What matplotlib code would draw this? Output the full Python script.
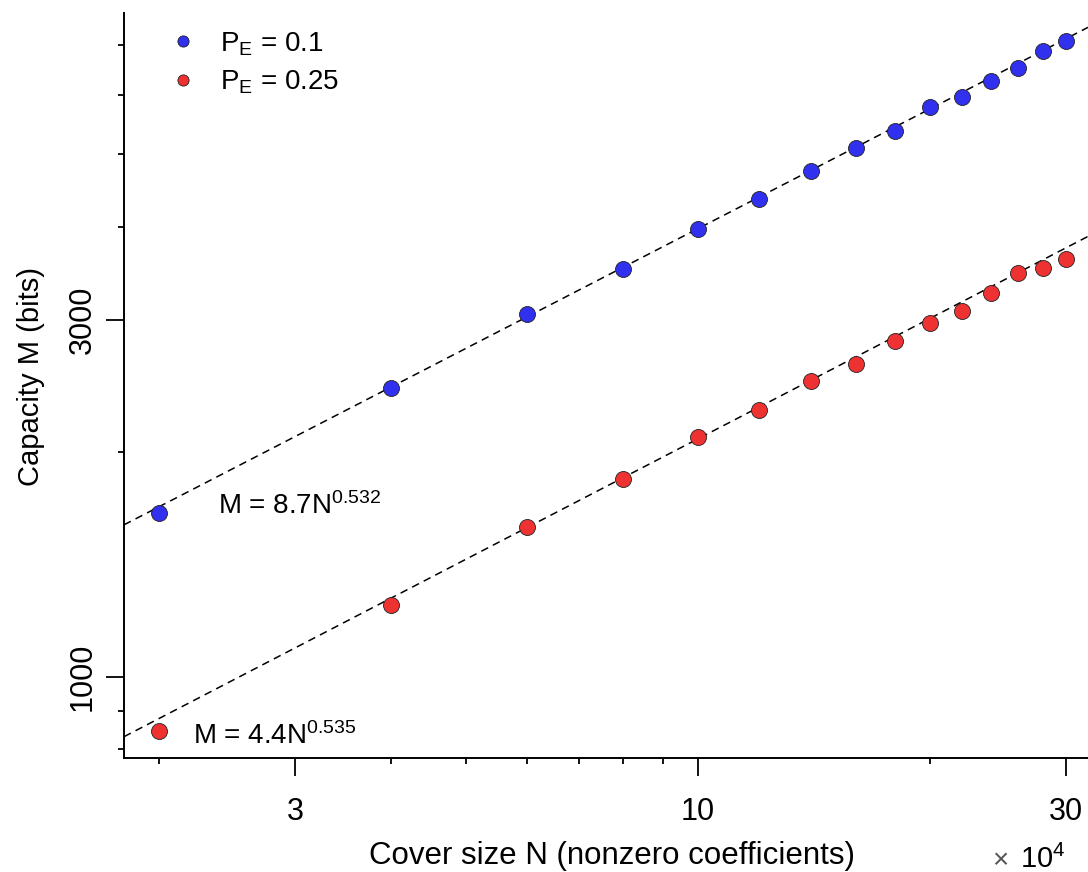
#!/usr/bin/env python

import matplotlib
matplotlib.use('Agg')
import matplotlib.pyplot as plt
import numpy as np

plt.rcParams['font.family'] = ['Liberation Sans', 'DejaVu Sans']
plt.rcParams['mathtext.fontset'] = 'custom'
plt.rcParams['mathtext.rm'] = 'Liberation Sans'
plt.rcParams['mathtext.it'] = 'Liberation Sans:italic'
plt.rcParams['mathtext.bf'] = 'Liberation Sans:bold'

# cover size in units of 1e4 nonzero coefficients
N = [2, 4, 6, 8, 10, 12, 14, 16, 18, 20, 22, 24, 26, 28, 30]
# capacity in bits
M_01 = [1657, 2434, 3057, 3512, 3972, 4355, 4748, 5093, 5370, 5780,
        5959, 6264, 6517, 6869, 7086]
M_025 = [847, 1248, 1587, 1840, 2094, 2275, 2487, 2620, 2812, 2973,
         3084, 3261, 3467, 3523, 3622]

# fitted power laws M = a * N^b
fit_01 = (8.7, 0.532)
fit_025 = (4.4, 0.535)

labels = [r'P$_\mathrm{E}$ = 0.1', r'P$_\mathrm{E}$ = 0.25']
blue = '#3030ee'
red = '#ee3232'

W, H = 1088, 872
fig = plt.figure(figsize=(W/100, H/100), dpi=100)
ax = fig.add_axes([124/W, (H - 758)/H, 1 - 124/W, (758 - 13)/H])

ax.set_xscale('log')
ax.set_yscale('log')
xlim = (1.8, 32.04)
ax.set_xlim(xlim)
ax.set_ylim(779, 7722)

# fit lines across the whole x range
xx = np.logspace(np.log10(xlim[0]), np.log10(xlim[1]), 50)
for a, b in [fit_01, fit_025]:
    ax.plot(xx, a*(xx*1e4)**b, color='k', lw=1.1, ls=(0, (5, 3.5)),
            zorder=2)

ax.plot(N, M_01, 'o', color=blue, mec='#222222', mew=0.6, ms=11.5,
        label=labels[0], zorder=3)
ax.plot(N, M_025, 'o', color=red, mec='#222222', mew=0.6, ms=11.5,
        label=labels[1], zorder=3)

ax.set_xticks([3, 10, 30])
ax.set_xticklabels(['3', '10', '30'])
ax.set_yticks([1000, 3000])
ax.set_yticklabels(['1000', '3000'], rotation=90, va='center')

for s in ['top', 'right']:
    ax.spines[s].set_visible(False)
for s in ['left', 'bottom']:
    ax.spines[s].set_linewidth(1.4)

ax.tick_params(which='major', direction='out', length=13, width=1.3,
               labelsize=22)
ax.tick_params(which='minor', direction='out', length=4.5, width=1.3,
               labelbottom=False, labelleft=False)
ax.tick_params(axis='x', which='major', pad=15)
ax.tick_params(axis='y', which='major', pad=6)

ax.set_xlabel('Cover size N (nonzero coefficients)', fontsize=22.5,
              labelpad=10)
ax.xaxis.label.set_x(0.5 + 6/964)
ax.set_ylabel('Capacity M (bits)', fontsize=21, labelpad=16)
ax.yaxis.label.set_y(0.5 + 9/745)

# fit annotations
ax.text(2.385, 1652, r'M = 8.7N$^{0.532}$', fontsize=20, va='baseline')
ax.text(2.213, 814, r'M = 4.4N$^{0.535}$', fontsize=20, va='baseline')

# exponent of the x axis
fig.text(1008/W, 1 - 866/H, r'$\times$', fontsize=20, color='#555555',
         ha='right', va='baseline')
fig.text(1020/W, 1 - 868/H, r'10$^4$', fontsize=21, va='baseline')

ax.legend(loc='upper left', bbox_to_anchor=(169/W, 1 - 30/H),
          bbox_transform=fig.transFigure, frameon=False, fontsize=20,
          numpoints=1, markerscale=0.7, handlelength=1.0,
          handletextpad=0.83, borderpad=0, borderaxespad=0,
          labelspacing=0.4)

fig.savefig('out.png', dpi=100)
